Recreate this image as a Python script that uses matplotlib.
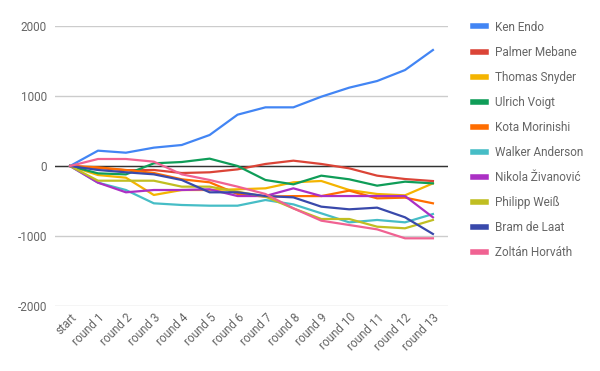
import matplotlib.pyplot as plt
from matplotlib.lines import Line2D

plt.rcParams['font.family'] = ['Roboto', 'DejaVu Sans']
plt.rcParams['axes.unicode_minus'] = False

rounds = ["start"] + ["round %d" % i for i in range(1, 14)]

players = ["Ken Endo", "Palmer Mebane", "Thomas Snyder", "Ulrich Voigt",
           "Kota Morinishi", "Walker Anderson", "Nikola Živanović",
           "Philipp Weiß", "Bram de Laat", "Zoltán Horváth"]

ken_endo = [0, 219, 190, 262, 300, 443, 733, 838, 838, 990, 1119, 1214, 1371, 1657]
palmer_mebane = [0, -30, -60, -57, -100, -90, -48, 29, 76, 29, -33, -138, -186, -215]
thomas_snyder = [0, -129, -167, -414, -343, -343, -333, -319, -233, -214, -343, -400, -419, -248]
ulrich_voigt = [0, -105, -120, 38, 57, 105, 0, -200, -262, -138, -190, -281, -224, -248]
kota_morinishi = [0, -19, -57, -100, -190, -233, -400, -438, -430, -430, -352, -462, -452, -533]
walker_anderson = [0, -238, -343, -533, -557, -567, -567, -486, -548, -676, -805, -771, -805, -686]
nikola_zivanovic = [0, -238, -376, -343, -343, -333, -429, -429, -319, -429, -429, -429, -429, -733]
philipp_weiss = [0, -210, -210, -210, -295, -295, -367, -438, -605, -757, -757, -867, -890, -771]
bram_de_laat = [0, -57, -90, -119, -200, -376, -376, -429, -448, -581, -619, -595, -733, -971]
zoltan_horvath = [0, 100, 100, 62, -119, -200, -295, -400, -605, -781, -843, -905, -1033, -1033]

series = [ken_endo, palmer_mebane, thomas_snyder, ulrich_voigt, kota_morinishi,
          walker_anderson, nikola_zivanovic, philipp_weiss, bram_de_laat, zoltan_horvath]
colors = ["#4285F4", "#DB4437", "#F4B400", "#0F9D58", "#FF6D00",
          "#46BDC6", "#AB30C4", "#C0BE22", "#3949AB", "#F06292"]

fig = plt.figure(figsize=(6, 3.71), dpi=100)
ax = fig.add_axes([55 / 600, 1 - 306 / 371, 393 / 600, 280 / 371])

x = list(range(len(rounds)))
for vals, c in zip(series, colors):
    ax.plot(x, vals, color=c, linewidth=1.6, solid_joinstyle='round', zorder=2)

ax.axhline(0, color="#333333", linewidth=1, zorder=1)
ax.set_ylim(-2000, 2000)
ax.set_xlim(-0.54, 13.54)
ax.set_yticks([-2000, -1000, 0, 1000, 2000])
ax.grid(axis='y', color="#cccccc", linewidth=1)
ax.set_axisbelow(True)
for s in ax.spines.values():
    s.set_visible(False)
ax.tick_params(length=0, colors="#666666", labelsize=8.5)
ax.tick_params(axis='y', pad=6)
ax.set_xticks(x)
ax.set_xticklabels(rounds, rotation=45, ha='right', rotation_mode='anchor')

handles = [Line2D([0], [0], color=c, linewidth=4) for c in colors]
leg = fig.legend(handles, players, loc='upper left', bbox_to_anchor=(462 / 600, 1 - 10 / 371),
                 frameon=False, fontsize=8.5, handlelength=1.1, handletextpad=0.8,
                 labelspacing=1.02, labelcolor="#666666")

fig.savefig("out.png", dpi=100)
